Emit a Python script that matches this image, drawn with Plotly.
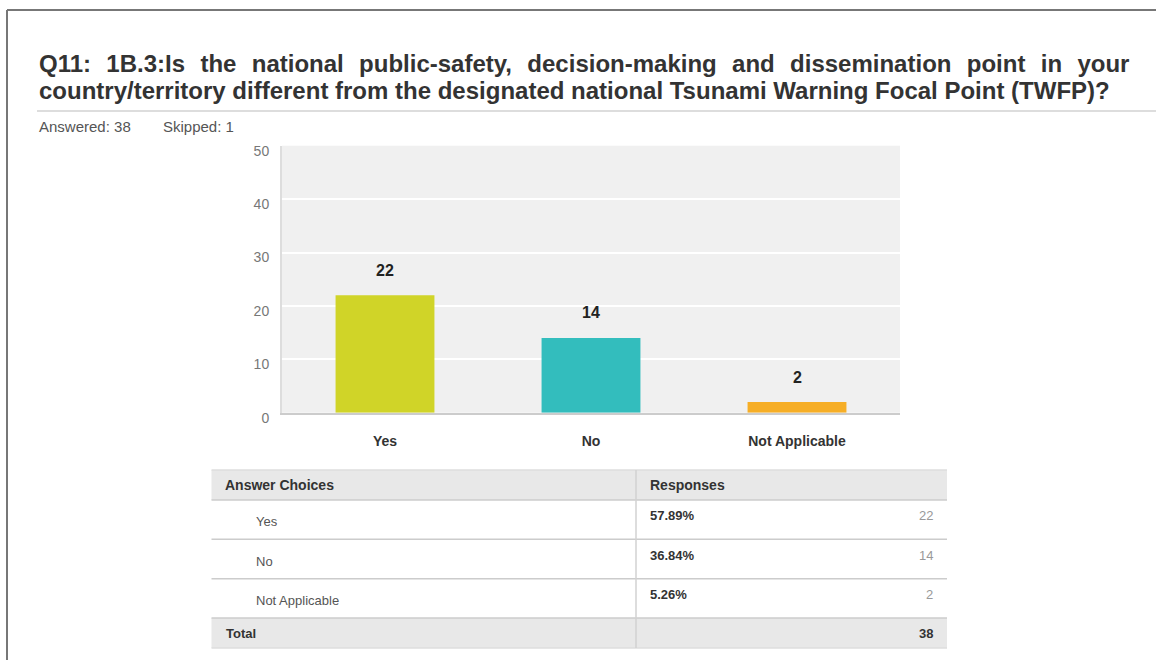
import plotly.graph_objects as go

# ---------------- data ----------------
categories = ["Yes", "No", "Not Applicable"]
counts = [22, 14, 2]
percents = ["57.89%", "36.84%", "5.26%"]
bar_colors = ["#d0d428", "#33bdbd", "#f6ae26"]
total_label = "Total"
total_count = 38
answered = 38
skipped = 1
y_ticks = [0, 10, 20, 30, 40, 50]
title_line1_words = ["Q11:", "1B.3:Is", "the", "national", "public-safety,", "decision-making",
                     "and", "dissemination", "point", "in", "your"]
title_line2 = "country/territory different from the designated national Tsunami Warning Focal Point (TWFP)?"
table_headers = ["Answer Choices", "Responses"]

# ---------------- layout helpers ----------------
W, H = 1156, 660
FONT = "Liberation Sans, Arial, Helvetica, sans-serif"


def px(x):
    return x / W


def py(y):
    return 1 - y / H


# justified first title line: uniform widened gaps
GAP = "\u00a0\u00a0\u200a"
line1 = GAP.join(title_line1_words)

fig = go.Figure()
fig.add_trace(go.Bar(
    x=categories, y=counts,
    marker=dict(color=bar_colors, line=dict(width=0)),
    hoverinfo="skip", showlegend=False,
))

annotations = []
shapes = []

# value labels above bars
for c, v in zip(categories, counts):
    annotations.append(dict(x=c, y=v, xref="x", yref="y", text=str(v), showarrow=False,
                            yshift=25, yanchor="middle", xanchor="center",
                            font=dict(family=FONT, size=16, color="#222222", weight="bold")))

# title
annotations.append(dict(x=px(37), y=py(64), xref="paper", yref="paper", text=line1, showarrow=False,
                        xanchor="left", yanchor="middle",
                        font=dict(family=FONT, size=24, color="#333333", weight="bold")))
annotations.append(dict(x=px(37), y=py(90), xref="paper", yref="paper", text=title_line2, showarrow=False,
                        xanchor="left", yanchor="middle",
                        font=dict(family=FONT, size=24, color="#333333", weight="bold")))
annotations.append(dict(x=px(37), y=py(127), xref="paper", yref="paper", text=f"Answered: {answered}",
                        showarrow=False, xanchor="left", yanchor="middle",
                        font=dict(family=FONT, size=15, color="#555555")))
annotations.append(dict(x=px(161), y=py(127), xref="paper", yref="paper", text=f"Skipped: {skipped}",
                        showarrow=False, xanchor="left", yanchor="middle",
                        font=dict(family=FONT, size=15, color="#555555")))

# frame lines
shapes.append(dict(type="line", xref="paper", yref="paper", x0=px(7), x1=1, y0=py(10), y1=py(10),
                   line=dict(color="#777777", width=2)))
shapes.append(dict(type="line", xref="paper", yref="paper", x0=px(7), x1=px(7), y0=py(10), y1=0,
                   line=dict(color="#777777", width=2)))
shapes.append(dict(type="line", xref="paper", yref="paper", x0=px(37), x1=1, y0=py(111), y1=py(111),
                   line=dict(color="#dddddd", width=2)))

# ---------------- table ----------------
T_L, T_R, T_DIV = 211.5, 947, 636
row_edges = [470, 500, 539.3, 578.7, 618, 648]

# header and total backgrounds
shapes.append(dict(type="rect", xref="paper", yref="paper", x0=px(T_L), x1=px(T_R),
                   y0=py(row_edges[0]), y1=py(row_edges[1]), fillcolor="#e8e8e8", line=dict(width=0), layer="below"))
shapes.append(dict(type="rect", xref="paper", yref="paper", x0=px(T_L), x1=px(T_R),
                   y0=py(row_edges[-2]), y1=py(row_edges[-1]), fillcolor="#e8e8e8", line=dict(width=0), layer="below"))
# horizontal rules
for i, ye in enumerate(row_edges):
    col = "#cccccc" if 0 < i < len(row_edges) - 1 else "#dedede"
    shapes.append(dict(type="line", xref="paper", yref="paper", x0=px(T_L), x1=px(T_R), y0=py(ye), y1=py(ye),
                       line=dict(color=col, width=1.5)))
# column divider
shapes.append(dict(type="line", xref="paper", yref="paper", x0=px(T_DIV), x1=px(T_DIV),
                   y0=py(row_edges[0]), y1=py(row_edges[-1]), line=dict(color="#d2d2d2", width=1.5)))

# header text
hc = (row_edges[0] + row_edges[1]) / 2
annotations.append(dict(x=px(223), y=py(hc), xref="paper", yref="paper", text=table_headers[0], showarrow=False,
                        xanchor="left", yanchor="middle",
                        font=dict(family=FONT, size=14, color="#333333", weight="bold")))
annotations.append(dict(x=px(648), y=py(hc), xref="paper", yref="paper", text=table_headers[1], showarrow=False,
                        xanchor="left", yanchor="middle",
                        font=dict(family=FONT, size=14, color="#333333", weight="bold")))

# data rows
for i, (c, p, n) in enumerate(zip(categories, percents, counts)):
    yc = (row_edges[i + 1] + row_edges[i + 2]) / 2
    annotations.append(dict(x=px(254), y=py(yc + 2), xref="paper", yref="paper", text=c, showarrow=False,
                            xanchor="left", yanchor="middle",
                            font=dict(family=FONT, size=13, color="#555555")))
    annotations.append(dict(x=px(648), y=py(yc - 4), xref="paper", yref="paper", text=p, showarrow=False,
                            xanchor="left", yanchor="middle",
                            font=dict(family=FONT, size=13, color="#333333", weight="bold")))
    annotations.append(dict(x=px(935), y=py(yc - 4), xref="paper", yref="paper", text=str(n), showarrow=False,
                            xanchor="right", yanchor="middle",
                            font=dict(family=FONT, size=13, color="#999999")))

# total row
tc = (row_edges[-2] + row_edges[-1]) / 2
annotations.append(dict(x=px(224), y=py(tc), xref="paper", yref="paper", text=total_label, showarrow=False,
                        xanchor="left", yanchor="middle",
                        font=dict(family=FONT, size=13, color="#333333", weight="bold")))
annotations.append(dict(x=px(935), y=py(tc), xref="paper", yref="paper", text=str(total_count), showarrow=False,
                        xanchor="right", yanchor="middle",
                        font=dict(family=FONT, size=13, color="#333333", weight="bold")))

fig.update_layout(
    width=W, height=H,
    autosize=False,
    margin=dict(l=0, r=0, t=0, b=0, pad=0, autoexpand=False),
    paper_bgcolor="white",
    plot_bgcolor="#f0f0f0",
    bargap=0.52,
    font=dict(family=FONT),
    showlegend=False,
    xaxis=dict(
        domain=[px(282), px(900)],
        automargin=False,
        showgrid=False, zeroline=False,
        showline=True, linecolor="#cccccc", linewidth=2,
        tickfont=dict(family=FONT, size=14, color="#333333", weight="bold"),
        ticklabelstandoff=14, fixedrange=True,
    ),
    yaxis=dict(
        domain=[py(412.7), py(145.7)],
        automargin=False,
        range=[0, 50], tickvals=y_ticks,
        showgrid=True, gridcolor="white", gridwidth=2,
        zeroline=False,
        showline=True, linecolor="#dddddd", linewidth=2,
        tickfont=dict(family=FONT, size=14, color="#777777"),
        ticklabelshift=5, ticklabelstandoff=8, fixedrange=True,
    ),
    annotations=annotations,
    shapes=shapes,
)

fig.write_html("out.html")
